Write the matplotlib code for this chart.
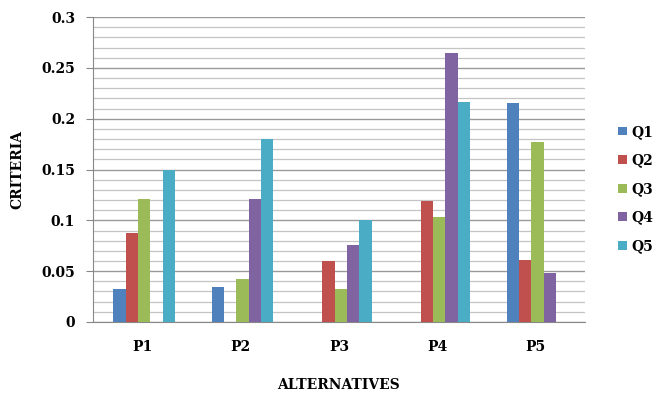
import numpy as np
import matplotlib
matplotlib.use('Agg')
from matplotlib import pyplot as plt

# criteria weights per alternative
alternatives = ['P1', 'P2', 'P3', 'P4', 'P5']
q1 = [0.032, 0.0345, 0.0, 0.0, 0.215]
q2 = [0.0875, 0.0, 0.060, 0.119, 0.061]
q3 = [0.1215, 0.042, 0.032, 0.1035, 0.177]
q4 = [0.0, 0.1215, 0.0755, 0.265, 0.048]
q5 = [0.150, 0.180, 0.100, 0.2165, 0.0]
series = [('Q1', q1), ('Q2', q2), ('Q3', q3), ('Q4', q4), ('Q5', q5)]

colors = ['#4F81BD', '#C0504D', '#9BBB59', '#8064A2', '#4BACC6']

plt.rcParams['font.family'] = 'DejaVu Serif'
plt.rcParams['font.weight'] = 'bold'

fig = plt.figure(figsize=(6.6, 3.98), dpi=100)
ax = fig.add_axes([0.141, 0.191, 0.745, 0.766])

x = np.arange(len(alternatives))
w = 0.125
for i, (name, vals) in enumerate(series):
    ax.bar(x + (i - 2) * w + 0.02, vals, w, color=colors[i], label=name, zorder=3)

ax.set_xlim(-0.5, 4.5)
ax.set_ylim(0, 0.3)
ax.set_yticks(np.arange(0, 0.31, 0.05))
ax.set_yticklabels(['0', '0.05', '0.1', '0.15', '0.2', '0.25', '0.3'], fontsize=10)
ax.set_yticks(np.arange(0, 0.301, 0.01), minor=True)
ax.grid(axis='y', which='minor', color='#c4c4c4', lw=0.9, zorder=0)
ax.grid(axis='y', which='major', color='#9a9a9a', lw=1.0, zorder=0)
ax.tick_params(axis='y', which='minor', length=0)
ax.tick_params(axis='y', which='major', length=5, color='#888888', pad=8)

ax.set_xticks(x)
ax.set_xticklabels(alternatives, fontsize=10)
ax.tick_params(axis='x', length=0, pad=13)

for s in ['top', 'right']:
    ax.spines[s].set_visible(False)
for s in ['left', 'bottom']:
    ax.spines[s].set_color('#888888')

ax.set_xlabel('ALTERNATIVES', fontsize=10, fontweight='heavy', labelpad=17)
ax.set_ylabel('CRITERIA', fontsize=10, fontweight='heavy', labelpad=12)

fig.legend(loc='center left', bbox_to_anchor=(0.918, 0.525), frameon=False,
           fontsize=10, handlelength=0.6, handleheight=0.6, handletextpad=0.3,
           labelspacing=1.05)

fig.savefig('out.png', dpi=100)
